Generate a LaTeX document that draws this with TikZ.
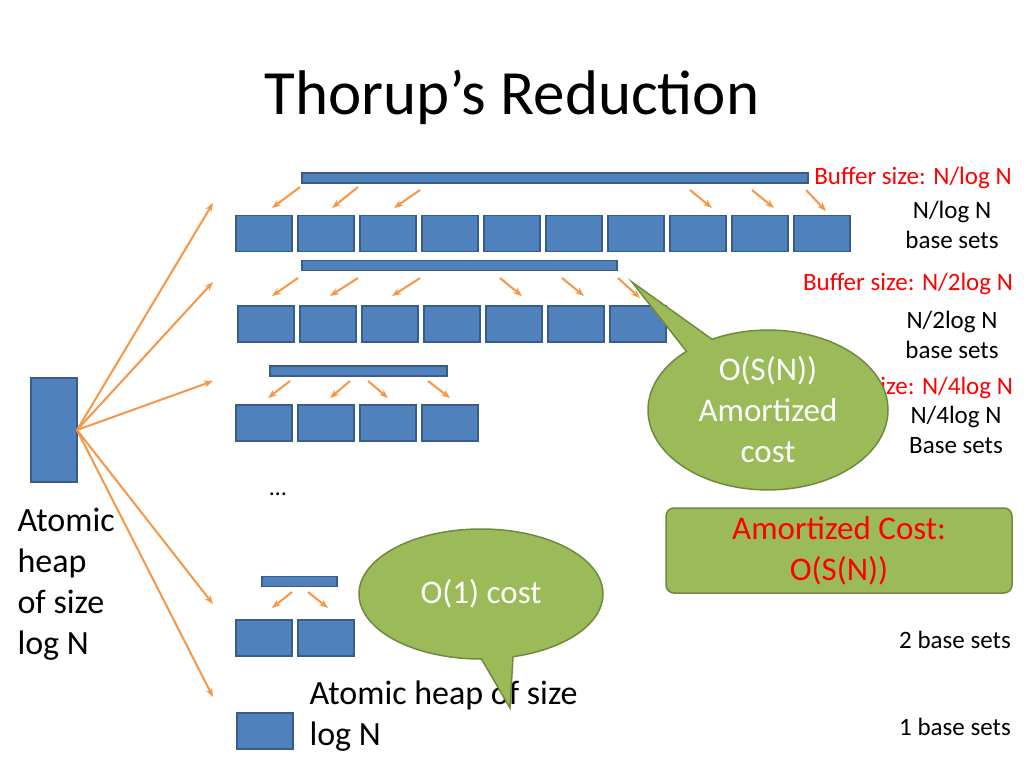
\documentclass[tikz,border=0pt]{standalone}
\usepackage{fontspec}
\setmainfont{Carlito}
\usetikzlibrary{shapes.callouts,arrows.meta}
\definecolor{boxblue}{HTML}{4F81BD}
\definecolor{boxedge}{HTML}{385D8A}
\definecolor{arrorange}{HTML}{F79646}
\definecolor{calloutgreen}{HTML}{9BBB59}
\definecolor{greenedge}{HTML}{71893F}
\definecolor{bufred}{HTML}{FF0000}
\tikzset{
  baseset/.style={draw=boxedge,fill=boxblue,line width=1.5pt,minimum width=56pt,minimum height=36pt,inner sep=0pt},
  buffer/.style={draw=boxedge,fill=boxblue,line width=1.2pt,minimum height=10pt,inner sep=0pt},
  feed/.style={draw=arrorange,line width=2pt,-{Stealth[length=9pt]}},
  lbl/.style={font=\fontsize{25}{30}\selectfont,align=center},
  buflbl/.style={font=\fontsize{25}{30}\selectfont,text=bufred},
  big/.style={font=\fontsize{34}{41}\selectfont,align=left}
}
\begin{document}
\begin{tikzpicture}[x=1pt,y=-1pt]
\useasboundingbox[fill=white] (0,0) rectangle (1024,768);
\node[font=\fontsize{63}{63}\selectfont] (title) at (512,97) {Thorup’s Reduction};

% buffers
\node[buffer,minimum width=506pt] (buf1) at (555,178) {};
\node[buffer,minimum width=315pt] (buf2) at (459.5,265.5) {};
\node[buffer,minimum width=177pt] (buf3) at (358.5,371) {};
\node[buffer,minimum width=75pt] (buf4) at (299.5,581.5) {};

% base sets
\foreach \i in {0,...,9} \node[baseset] (r1b\i) at (264+62*\i,233.5) {};
\foreach \i in {0,...,6} \node[baseset] (r2b\i) at (266+62*\i,324) {};
\foreach \i in {0,...,3} \node[baseset] (r3b\i) at (264+62*\i,423) {};
\foreach \i in {0,1} \node[baseset] (r4b\i) at (264+62*\i,638) {};
\node[baseset] (single) at (265,731) {};
\node[draw=boxedge,fill=boxblue,line width=1.5pt,minimum width=46pt,minimum height=104pt,inner sep=0pt] (atomic) at (54,430) {};

% arrows from atomic heap
\coordinate (src) at (77,430);
\foreach \y [count=\k] in {203,282,381,604,697} {
  \coordinate (tgt\k) at (213,\y);
  \draw[feed] (src) -- (tgt\k);
}

% small arrows
\foreach \a/\b/\c/\d in {300/187/272/208,358/187/332/208,420/190/394/208,690/190/712/208,752/190/774/208,806/190/826/211,
  298/278/272/296,358/278/330/296,420/278/392/296,500/278/522/296,562/278/584/296,618/278/640/298,
  290/381/268/398,350/381/330/398,368/381/388/398,428/381/450/398,292/592/272/608,308/592/328/608}
  \draw[feed] (\a,\b) -- (\c,\d);

% texts
\node[buflbl] (bl1) at (913,178) {Buffer size: N/log N};
\node[lbl] (bs1) at (952,225) {N/log N\\base sets};
\node[buflbl] (bl2) at (908,284) {Buffer size: N/2log N};
\node[lbl] (bs2) at (952,335) {N/2log N\\base sets};
\node[buflbl] (bl3) at (908,388) {Buffer size: N/4log N};
\node[lbl] (bs3) at (956,430) {N/4log N\\Base sets};
\node[lbl] (bs4) at (955,640) {2 base sets};
\node[lbl] (bs5) at (955,727) {1 base sets};
\node[font=\fontsize{24}{24}\selectfont] (dots) at (278,494) {\ldots};
\node[big,anchor=north west] (leftlbl) at (14,505) {Atomic\\heap\\of size\\log N};
\node[big,anchor=north west] (bottomlbl) at (306,677) {Atomic heap of size\\log N};

% callouts
\node[ellipse callout,draw=greenedge,fill=calloutgreen,line width=1.5pt,minimum width=240pt,minimum height=124pt,
  callout absolute pointer={(632,282)},font=\fontsize{33}{41}\selectfont,align=center,text=white] (co1) at (768,410) {O(S(N))\\Amortized\\cost};
\node[ellipse callout,draw=greenedge,fill=calloutgreen,line width=1.5pt,minimum width=244pt,minimum height=130pt,
  callout absolute pointer={(510,708)},font=\fontsize{33}{40}\selectfont,text=white] (co2) at (481,594) {O(1) cost};
\node[draw=greenedge,fill=calloutgreen,line width=1.5pt,rounded corners=8pt,minimum width=346pt,minimum height=85pt,
  font=\fontsize{33}{41}\selectfont,align=center,text=bufred] (amort) at (839,550.5) {Amortized Cost:\\O(S(N))};
\end{tikzpicture}
\end{document}
